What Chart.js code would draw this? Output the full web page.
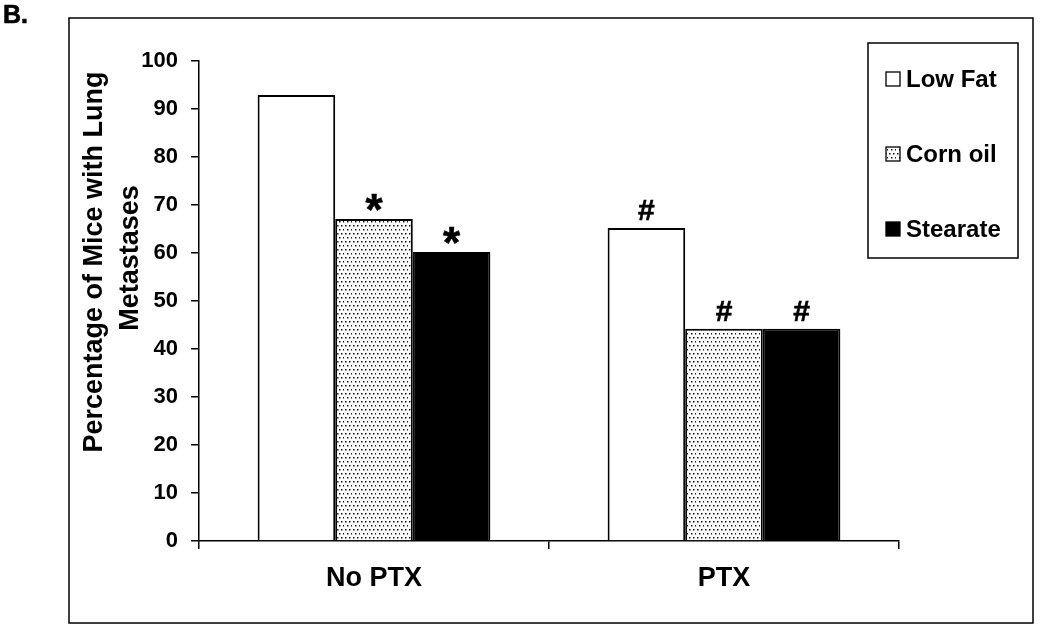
<!DOCTYPE html>
<html lang="en">
<head>
  <meta charset="UTF-8">
  <title>Lung Metastases</title>
  <script src="https://cdn.jsdelivr.net/npm/chart.js"></script>
  <style>
    body { margin: 0; background: #fff; }
  </style>
</head>
<body>
  <canvas id="metChart" width="1050" height="625"></canvas>
  <script>
    const categories = ['No PTX', 'PTX'];
    const seriesNames = ['Low Fat', 'Corn oil', 'Stearate'];
    const lowFat = [92.9, 65.2];
    const cornOil = [67.1, 44.2];
    const stearate = [60.2, 44.2];
    // significance marks drawn above each bar
    const lowFatMarks = ['', '#'];
    const cornOilMarks = ['*', '#'];
    const stearateMarks = ['*', '#'];
    const yTitle = ['Percentage of Mice with Lung', 'Metastases'];
    const FONT = "'Liberation Sans', Arial, sans-serif";

    // dotted fill like the Excel pattern
    function dotPattern() {
      const c = document.createElement('canvas');
      c.width = 8; c.height = 8;
      const g = c.getContext('2d');
      g.fillStyle = '#fff';
      g.fillRect(0, 0, 8, 8);
      g.fillStyle = '#111';
      [[1, 1], [5, 1], [3, 5], [7, 5]].forEach(p => g.fillRect(p[0], p[1], 1.5, 1.5));
      return g.createPattern(c, 'repeat');
    }
    const ctx = document.getElementById('metChart').getContext('2d');
    const dots = dotPattern();
    const fills = ['#ffffff', dots, '#000000'];
    const marks = [lowFatMarks, cornOilMarks, stearateMarks];

    // heavier text, a bit like the original's rendering
    function boldText(c, s, x, y) {
      c.fillText(s, x, y);
      c.lineWidth = 0.6;
      c.strokeStyle = '#000';
      c.strokeText(s, x, y);
    }

    const decorations = {
      id: 'decorations',
      afterDraw(chart) {
        const c = chart.ctx;
        c.save();
        // outer frame
        c.strokeStyle = '#000';
        c.lineWidth = 1.5;
        c.strokeRect(69, 18, 964, 605);
        // panel letter
        c.fillStyle = '#000';
        c.font = 'bold 25px ' + FONT;
        c.textAlign = 'left';
        c.textBaseline = 'alphabetic';
        boldText(c, 'B.', 3, 23);

        // y-axis title
        c.save();
        c.translate(0, 262);
        c.rotate(-Math.PI / 2);
        c.font = 'bold 27px ' + FONT;
        c.textAlign = 'center';
        c.textBaseline = 'middle';
        c.fillText(yTitle[0], 0, 95);
        c.fillText(yTitle[1], 4, 131);
        c.restore();

        // marks above bars
        chart.data.datasets.forEach((ds, di) => {
          const meta = chart.getDatasetMeta(di);
          meta.data.forEach((bar, i) => {
            const m = marks[di][i];
            if (!m) return;
            c.font = (m === '*' ? 'bold 44px ' : 'bold 30px ') + FONT;
            c.textAlign = 'center';
            c.textBaseline = 'alphabetic';
            const tm = c.measureText(m);
            boldText(c, m, bar.x, bar.y - 8 - tm.actualBoundingBoxDescent);
          });
        });

        // legend box
        c.lineWidth = 1.5;
        c.strokeStyle = '#000';
        c.strokeRect(868, 43, 150, 215);
        c.font = 'bold 24px ' + FONT;
        c.textAlign = 'left';
        c.textBaseline = 'middle';
        seriesNames.forEach((name, i) => {
          const y = 79 + i * 75;
          c.fillStyle = fills[i];
          c.fillRect(886, y - 7, 14, 14);
          c.lineWidth = 1.3;
          c.strokeRect(886, y - 7, 14, 14);
          c.fillStyle = '#000';
          c.fillText(name, 906, y + 1);
        });
        c.restore();
      }
    };

    new Chart(ctx, {
      type: 'bar',
      data: {
        labels: categories,
        datasets: [
          { label: seriesNames[0], data: lowFat, backgroundColor: fills[0] },
          { label: seriesNames[1], data: cornOil, backgroundColor: fills[1] },
          { label: seriesNames[2], data: stearate, backgroundColor: fills[2] }
        ]
      },
      options: {
        responsive: false,
        animation: false,
        devicePixelRatio: 1,
        layout: { padding: { left: 0, right: 151, top: 61, bottom: 0 } },
        datasets: {
          bar: {
            borderColor: '#000',
            borderWidth: 2,
            categoryPercentage: 0.665,
            barPercentage: 1
          }
        },
        plugins: {
          legend: { display: false },
          tooltip: { enabled: false }
        },
        scales: {
          x: {
            afterFit(scale) { scale.height = 84; },
            grid: { offset: true, drawOnChartArea: false, color: '#000', lineWidth: 1.5, tickLength: 8 },
            border: { color: '#000', width: 1.5 },
            ticks: { color: '#000', padding: 13, font: { family: FONT, weight: 'bold', size: 27 } }
          },
          y: {
            min: 0,
            max: 100,
            afterFit(scale) { scale.width = 199; },
            grid: { drawOnChartArea: false, color: '#000', lineWidth: 1.5, tickLength: 8 },
            border: { color: '#000', width: 1.5 },
            ticks: { stepSize: 10, color: '#000', padding: 13, font: { family: FONT, weight: 'bold', size: 22 } }
          }
        }
      },
      plugins: [decorations]
    });
  </script>
</body>
</html>
